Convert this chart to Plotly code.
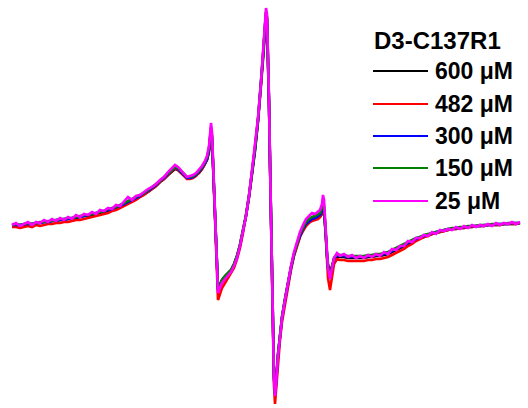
import plotly.graph_objects as go

# Magnetic field (arbitrary units) and EPR first-derivative amplitude (arb. units)
field = [12,16,20,24,28,32,36,40,44,48,52,56,60,64,68,72,76,80,84,88,92,96,100,104,108,112,116,120,124,128,132,136,140,144,148,152,156,160,164,168,172,175,178,181,184,187,190,193,196,199,202,205,207,209,211,212,214,216,218,220,222,225,228,231,234,237,240,243,246,249,252,255,258,261,263,265,266,267,268,269,270,271,272,273,274,275,276,278,280,282,285,288,291,294,297,300,303,306,309,312,315,318,320,322,323,324,325,326,327,328,330,332,334,337,340,344,348,352,356,360,364,368,372,376,380,384,388,392,396,400,404,408,412,416,420,424,428,432,436,440,444,448,452,456,460,464,468,472,476,480,484,488,492,496,500,504,508,512,516,520]

amp_600 = [0,1,1,1,2,2,3,3,4,4,5,5,6,6,7,7,8,9,10,10,11,12,13,14,15,16,18,19,21,23,25,27,29,32,34,37,40,44,47,51,55,57,56,53,50,48,48,49,51,53,57,62,66,74,92,86,34,-22,-62,-58,-54,-50,-47,-44,-38,-30,-19,-5,10,29,52,75,104,138,166,194,206,202,170,122,64,6,-52,-106,-150,-166,-157,-128,-108,-91,-73,-56,-41,-28,-18,-10,-4,1,4,6,7,8,9,12,17,14,4,-12,-28,-38,-47,-40,-33,-30,-31,-31,-32,-32,-32,-32,-32,-31,-31,-30,-30,-29,-28,-26,-24,-22,-20,-18,-16,-14,-12,-11,-9,-8,-7,-6,-5,-4,-3,-3,-2,-2,-1,-1,0,0,0,1,1,1,1,2,2,2,2,3]

amp_482 = [-1,-1,-2,-1,0,-1,1,0,1,2,2,3,3,4,4,5,6,6,7,8,9,10,11,12,13,15,16,18,20,22,24,26,29,31,34,37,40,44,47,51,55,58,56,53,49,47,47,48,50,53,57,62,67,76,98,90,30,-30,-74,-68,-62,-57,-52,-48,-42,-33,-22,-7,9,29,53,77,106,142,171,200,214,208,172,122,62,2,-58,-114,-160,-178,-166,-134,-114,-96,-78,-60,-44,-30,-20,-11,-5,0,3,5,6,7,9,13,20,16,4,-16,-38,-52,-64,-50,-38,-33,-34,-34,-35,-35,-35,-35,-35,-34,-34,-33,-33,-32,-31,-29,-27,-25,-23,-20,-18,-15,-13,-11,-10,-8,-7,-6,-5,-4,-3,-3,-2,-2,-1,-1,0,0,0,1,1,1,1,2,2,2,2,3]

amp_300 = [1,1,1,2,2,2,3,3,4,4,5,6,6,7,7,8,9,9,10,11,12,13,14,15,16,17,19,20,22,24,26,28,30,33,35,38,41,45,48,52,56,59,57,54,51,48,48,49,51,54,58,63,67,76,96,88,34,-24,-64,-60,-55,-51,-48,-45,-39,-31,-19,-5,10,30,53,77,106,141,170,199,212,207,172,124,64,5,-54,-108,-152,-168,-158,-129,-109,-92,-74,-57,-42,-29,-18,-10,-3,2,5,7,8,10,11,15,22,18,6,-12,-30,-42,-51,-42,-33,-29,-30,-30,-31,-31,-31,-31,-31,-30,-30,-29,-29,-28,-27,-25,-23,-21,-19,-17,-15,-13,-11,-10,-9,-7,-6,-5,-4,-3,-3,-2,-2,-1,-1,0,0,0,1,1,1,2,2,2,2,3,3,3]

amp_150 = [1,2,1,2,3,2,3,4,4,5,5,6,7,7,8,8,9,10,11,11,12,13,14,15,17,18,19,21,23,25,27,29,31,33,36,39,42,45,49,53,57,59,58,55,51,49,49,50,52,55,59,64,69,78,99,90,35,-23,-63,-59,-54,-50,-47,-44,-38,-30,-18,-4,11,31,54,78,107,142,171,201,214,209,174,125,65,5,-54,-108,-152,-168,-158,-129,-109,-91,-73,-56,-41,-28,-17,-8,-2,4,7,9,10,12,13,18,26,21,8,-11,-30,-41,-50,-41,-32,-28,-29,-29,-30,-30,-30,-30,-30,-29,-29,-28,-28,-27,-26,-24,-22,-20,-18,-16,-14,-12,-11,-9,-8,-7,-6,-5,-4,-3,-2,-2,-1,-1,0,0,0,1,1,1,2,2,2,2,3,3,3,3]

amp_25 = [1,3,0,2,4,1,4,3,6,4,7,5,8,6,9,7,11,9,12,11,14,12,16,15,18,17,21,20,24,29,26,30,31,34,37,39,42,46,49,54,58,61,59,56,52,49,50,51,53,56,60,65,70,80,103,94,36,-24,-67,-62,-57,-53,-49,-46,-40,-32,-20,-6,10,30,54,78,108,144,174,204,218,212,176,126,66,6,-54,-109,-154,-170,-160,-130,-110,-92,-74,-56,-40,-26,-15,-6,1,7,10,13,12,15,16,22,31,26,11,-10,-30,-42,-53,-42,-32,-27,-30,-28,-31,-29,-32,-30,-32,-29,-31,-28,-30,-26,-28,-23,-24,-20,-20,-15,-16,-12,-12,-9,-10,-6,-8,-4,-5,-3,-4,-1,-3,0,-2,1,-1,1,0,2,0,3,1,3,2,4,2,4]

series_names = ["600 μM", "482 μM", "300 μM", "150 μM", "25 μM"]
series_values = [amp_600, amp_482, amp_300, amp_150, amp_25]
series_colors = ["#000000", "#ff0000", "#0000ff", "#008000", "#ff00ff"]
legend_title = "D3-C137R1"

for v in series_values:
    assert len(v) == len(field), (len(v), len(field))

W, H = 528, 408
FONT = "Liberation Sans, Arial, Helvetica, sans-serif"

fig = go.Figure()
for name, vals, col in zip(series_names, series_values, series_colors):
    fig.add_trace(go.Scatter(
        x=field, y=vals, mode="lines", name=name,
        line=dict(color=col, width=2.6), showlegend=False,
    ))

# Hand-placed legend (long line samples as in the reference)
annotations = [dict(
    text=legend_title, xref="paper", yref="paper",
    x=372/W, y=1 - 41/H, xanchor="left", yanchor="middle", showarrow=False,
    font=dict(family=FONT, size=24, color="black", weight="bold"),
)]
shapes = []
legend_rows_px = [71, 104, 136, 168, 201]
for name, col, ypx in zip(series_names, series_colors, legend_rows_px):
    yp = 1 - ypx / H
    shapes.append(dict(type="line", xref="paper", yref="paper",
                       x0=373/W, x1=428/W, y0=yp, y1=yp,
                       line=dict(color=col, width=2.2)))
    annotations.append(dict(
        text=name, xref="paper", yref="paper",
        x=433/W, y=yp, xanchor="left", yanchor="middle", showarrow=False,
        font=dict(family=FONT, size=23, color="black", weight="bold"),
    ))

fig.update_layout(
    width=W, height=H,
    margin=dict(l=0, r=0, t=0, b=0),
    paper_bgcolor="white", plot_bgcolor="white",
    xaxis=dict(range=[0, 528], visible=False),
    yaxis=dict(range=[-182, 226], visible=False),
    showlegend=False,
    annotations=annotations,
    shapes=shapes,
)

fig.write_html("out.html")
